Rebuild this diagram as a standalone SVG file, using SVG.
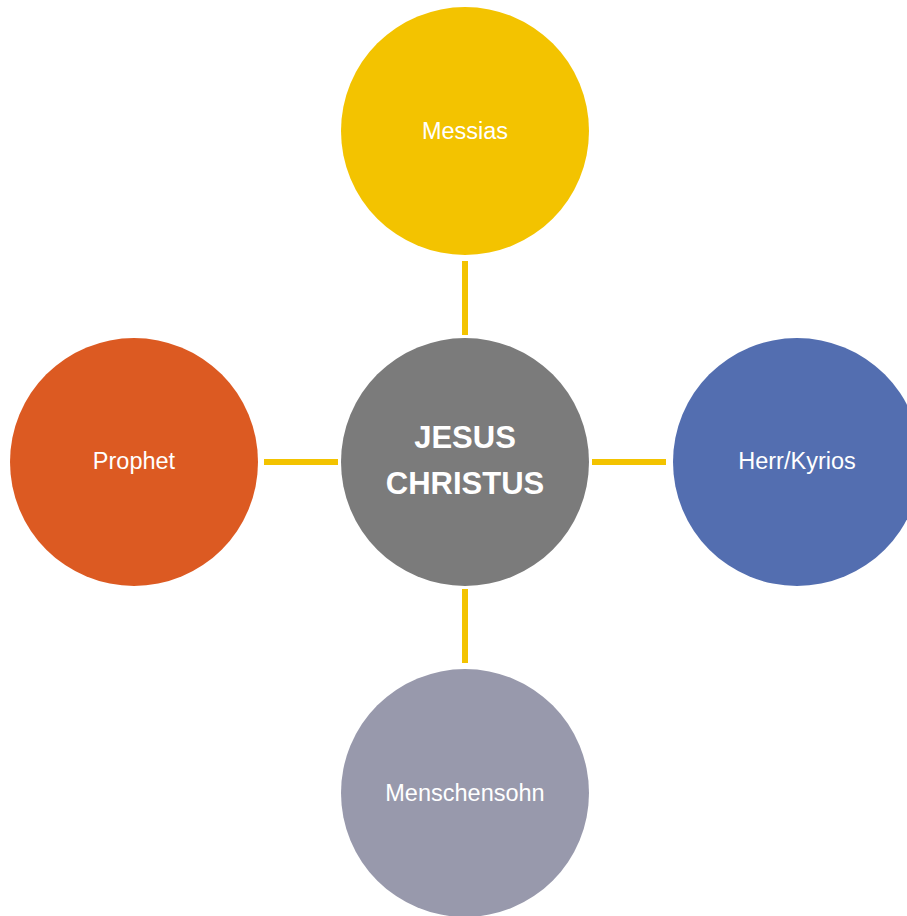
<svg xmlns="http://www.w3.org/2000/svg" width="907" height="916" viewBox="0 0 907 916">
<style>
.lbl{font-family:"Liberation Sans",Arial,sans-serif;font-size:23.5px;fill:#ffffff;text-anchor:middle}
.ctr{font-family:"Liberation Sans",Arial,sans-serif;font-size:31px;font-weight:bold;fill:#ffffff;text-anchor:middle}
.con{stroke:#F3C300;stroke-width:6;fill:none}
</style>
<rect width="907" height="916" fill="#ffffff"/>
<g id="connectors">
<line class="con" x1="465" y1="261" x2="465" y2="335"/>
<line class="con" x1="465" y1="589" x2="465" y2="663"/>
<line class="con" x1="264" y1="462" x2="338" y2="462"/>
<line class="con" x1="592" y1="462" x2="666" y2="462"/>
</g>
<g id="messias">
<circle cx="465" cy="131" r="124" fill="#F3C300"/>
<text class="lbl" x="465" y="138.5">Messias</text>
</g>
<g id="jesus-christus">
<circle cx="465" cy="462" r="124" fill="#7B7B7B"/>
<text class="ctr" x="465" y="447.5">JESUS</text>
<text class="ctr" x="465" y="493.5">CHRISTUS</text>
</g>
<g id="prophet">
<circle cx="134" cy="462" r="124" fill="#DC5A22"/>
<text class="lbl" x="134" y="469">Prophet</text>
</g>
<g id="herr-kyrios">
<circle cx="797" cy="462" r="124" fill="#536EB0"/>
<text class="lbl" x="797" y="469">Herr/Kyrios</text>
</g>
<g id="menschensohn">
<circle cx="465" cy="793" r="124" fill="#9899AC"/>
<text class="lbl" x="465" y="800.5">Menschensohn</text>
</g>
</svg>
